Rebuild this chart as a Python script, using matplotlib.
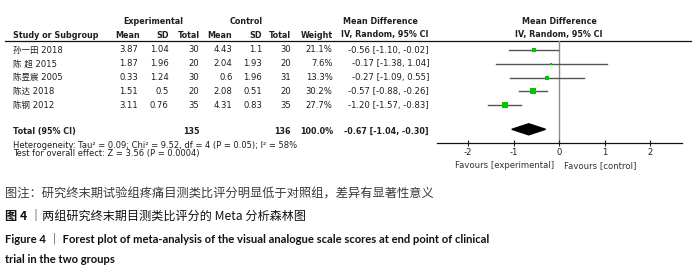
import matplotlib.pyplot as plt
from matplotlib.lines import Line2D

# data
studies = ['孙一田 2018', '陈 超 2015', '陈昱宸 2005', '陈达 2018', '陈钢 2012']
exp_mean = ['3.87', '1.87', '0.33', '1.51', '3.11']
exp_sd = ['1.04', '1.96', '1.24', '0.5', '0.76']
exp_n = [30, 20, 30, 20, 35]
ctl_mean = ['4.43', '2.04', '0.6', '2.08', '4.31']
ctl_sd = ['1.1', '1.93', '1.96', '0.51', '0.83']
ctl_n = [30, 20, 31, 20, 35]
weight = [21.1, 7.6, 13.3, 30.2, 27.7]
total_weight = 100.0
md = [-0.56, -0.17, -0.27, -0.57, -1.20]
ci_lo = [-1.10, -1.38, -1.09, -0.88, -1.57]
ci_hi = [-0.02, 1.04, 0.55, -0.26, -0.83]
total_md, total_lo, total_hi = -0.67, -1.04, -0.30
xticks = [-2, -1, 0, 1, 2]

W, H = 700, 276
fig = plt.figure(figsize=(W / 100, H / 100), dpi=100)
bg = fig.add_axes([0, 0, 1, 1])
bg.set_xlim(0, W)
bg.set_ylim(H, 0)
bg.axis('off')

tfont = ['DejaVu Sans', 'Noto Sans CJK SC']
fs = 6.1
fsb = 5.8  # bold text is wider
col = '#1f1f1f'

def txt(x, y, s, ha='left', bold=False, size=None, family=tfont, color=col):
    if size is None:
        size = fsb if bold else fs
    return bg.text(x, y, s, ha=ha, va='center', fontsize=size, family=family,
                   fontweight='bold' if bold else 'normal', color=color)

# header
txt(153.5, 21.7, 'Experimental', ha='center', bold=True)
txt(246.5, 21.7, 'Control', ha='center', bold=True)
txt(380, 21.7, 'Mean Difference', ha='center', bold=True)
txt(559, 21.7, 'Mean Difference', ha='center', bold=True)
txt(13, 35, 'Study or Subgroup', bold=True)
for x, s in [(140, 'Mean'), (168.5, 'SD'), (199.5, 'Total'), (232.5, 'Mean'),
             (262, 'SD'), (291, 'Total'), (333, 'Weight')]:
    txt(x, 35, s, ha='right', bold=True)
txt(385, 35, 'IV, Random, 95% CI', ha='center', bold=True)
txt(559, 35, 'IV, Random, 95% CI', ha='center', bold=True)
bg.add_line(Line2D([5, 691], [40.5, 40.5], color='#111111', lw=0.9))

row_y0, row_dy = 50, 13.8
for i, name in enumerate(studies):
    y = row_y0 + i * row_dy
    txt(13, y, name)
    txt(138, y, exp_mean[i], ha='right')
    txt(168.5, y, exp_sd[i], ha='right')
    txt(199.5, y, str(exp_n[i]), ha='right')
    txt(232.5, y, ctl_mean[i], ha='right')
    txt(262, y, ctl_sd[i], ha='right')
    txt(291, y, str(ctl_n[i]), ha='right')
    txt(332.5, y, f'{weight[i]:.1f}%', ha='right')
    txt(429, y, f'{md[i]:.2f} [{ci_lo[i]:.2f}, {ci_hi[i]:.2f}]', ha='right')

ty = 131.7
txt(13, ty, 'Total (95% CI)', bold=True)
txt(199.5, ty, str(sum(exp_n)), ha='right', bold=True)
txt(291, ty, str(sum(ctl_n)), ha='right', bold=True)
txt(333, ty, f'{total_weight:.1f}%', ha='right', bold=True)
txt(429, ty, f'{total_md:.2f} [{total_lo:.2f}, {total_hi:.2f}]', ha='right', bold=True)
txt(13, 145.5, 'Heterogeneity: Tau² = 0.09; Chi² = 9.52, df = 4 (P = 0.05); I² = 58%', size=6.05)
txt(13, 153.5, 'Test for overall effect: Z = 3.56 (P = 0.0004)', size=6.05)

# forest panel: pixel box x 437.3..682.3, y 40.5..143.3
x0p, x1p, y0p, y1p = 437.3, 682.3, 40.5, 143.3
fx = fig.add_axes([x0p / W, 1 - y1p / H, (x1p - x0p) / W, (y1p - y0p) / H])
fx.patch.set_alpha(0)
fx.set_xlim(-2.675, 2.70)
fx.set_ylim((y1p - row_y0) / row_dy, (y0p - row_y0) / row_dy)
for s in ['top', 'left', 'right']:
    fx.spines[s].set_visible(False)
fx.spines['bottom'].set_color('#111111')
fx.spines['bottom'].set_linewidth(0.9)
fx.set_yticks([])
fx.set_xticks(xticks)
fx.set_xticklabels([str(t) for t in xticks], family='DejaVu Sans', fontsize=6.1, color=col)
fx.tick_params(axis='x', direction='inout', length=5, width=0.8, color='#222222', pad=1.0)
fx.axvline(0, color='#8c8c8c', lw=1.0, zorder=1)

for i in range(len(studies)):
    fx.plot([ci_lo[i], ci_hi[i]], [i, i], color='#555555', lw=1.0, zorder=2)
    fx.plot(md[i], i, marker='s', color='#00c800', markersize=0.72 * weight[i] ** 0.5,
            markeredgewidth=0, zorder=3)

tot_row = (129.3 - row_y0) / row_dy
dh = 0.4
fx.fill([total_lo, total_md, total_hi, total_md],
        [tot_row, tot_row - dh, tot_row, tot_row + dh], color='black', zorder=3)

txt(554, 166, 'Favours [experimental]', ha='right', color='#333333')
txt(563.5, 166, 'Favours [control]', color='#333333')

# captions
cjk = ['Noto Sans CJK SC', 'DejaVu Sans']
txt(5, 194, '图注：研究终末期试验组疼痛目测类比评分明显低于对照组，差异有显著性意义',
    size=8.8, family=cjk, color='#3a3a3a')
txt(5, 216.5, '图 4', size=8.8, family=cjk, color='#111111', bold=True)
txt(30, 216.5, '｜两组研究终末期目测类比评分的 Meta 分析森林图', size=8.7,
    family=cjk, color='#111111')
lat = ['Lato', 'Noto Sans CJK SC']
txt(5, 239.3, 'Figure 4 ｜ Forest plot of meta-analysis of the visual analogue scale scores at end point of clinical',
    size=8.15, family=lat, bold=True, color='#111111')
txt(5, 259.3, 'trial in the two groups', size=8.15, family=lat, bold=True, color='#111111')

fig.savefig('out.png', dpi=100)
